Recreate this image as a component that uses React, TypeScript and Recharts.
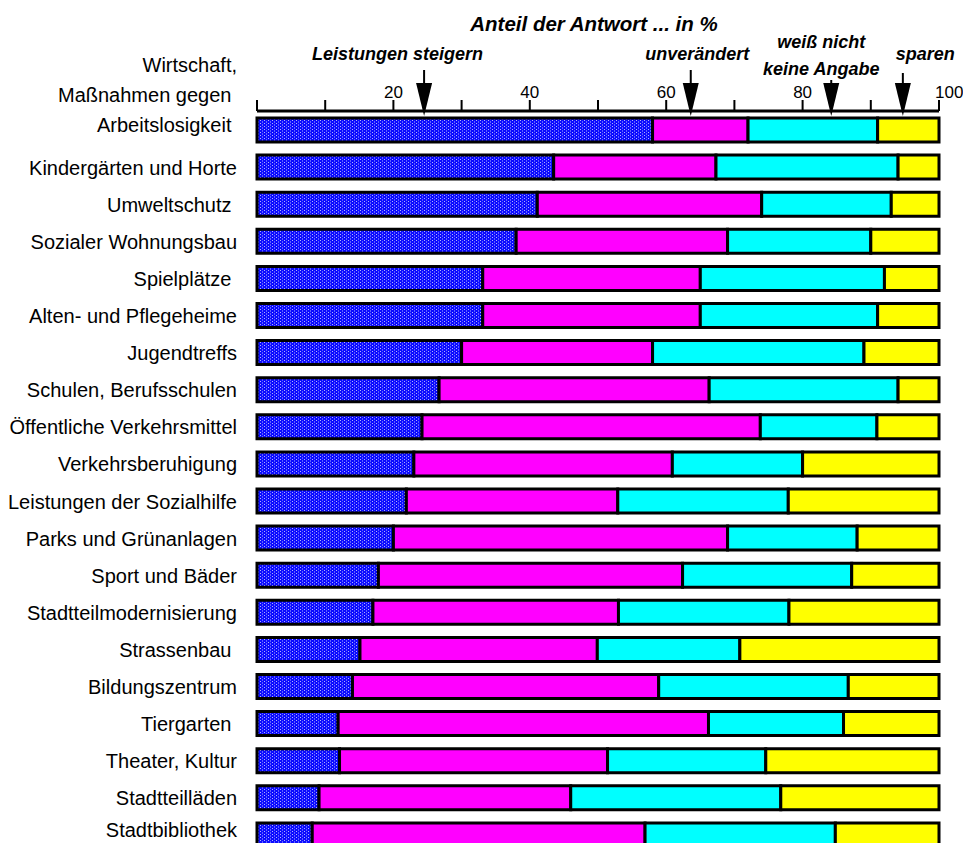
import React from 'react';
import { BarChart, Bar, XAxis, YAxis, ReferenceLine } from 'recharts';

// ---- data ----
const categories = [
  'Wirtschaft,\nMaßnahmen gegen \nArbeitslosigkeit ',
  'Kindergärten und Horte',
  'Umweltschutz ',
  'Sozialer Wohnungsbau',
  'Spielplätze ',
  'Alten- und Pflegeheime',
  'Jugendtreffs',
  'Schulen, Berufsschulen',
  'Öffentliche Verkehrsmittel',
  'Verkehrsberuhigung',
  'Leistungen der Sozialhilfe',
  'Parks und Grünanlagen',
  'Sport und Bäder',
  'Stadtteilmodernisierung',
  'Strassenbau ',
  'Bildungszentrum',
  'Tiergarten ',
  'Theater, Kultur',
  'Stadtteilläden',
  'Stadtbibliothek',
];
const steigern = [58, 43.5, 41.1, 38, 33.1, 33.1, 30, 26.7, 24.2, 23, 21.9, 20, 17.8, 17, 15.1, 14, 11.9, 12.1, 9.1, 8.1];
const unveraendert = [14, 23.8, 32.9, 31, 31.9, 31.9, 28, 39.6, 49.6, 37.9, 31, 49, 44.6, 36, 34.8, 44.9, 54.3, 39.3, 36.9, 48.8];
const weissNicht = [19, 26.7, 19, 21, 27, 26, 31, 27.7, 17.1, 19.1, 25, 19, 24.8, 25, 20.9, 27.8, 19.8, 23.2, 30.8, 27.9];
const sparen = [9, 6, 7, 10, 8, 9, 11, 6, 9.1, 20, 22.1, 12, 12.8, 22, 29.2, 13.3, 14, 25.4, 23.2, 15.2];

const xTicks = [0, 10, 20, 30, 40, 50, 60, 70, 80, 90, 100];
const title = 'Anteil der Antwort ... in %';

// arrow annotations: position on the % axis and their labels
const arrowValues = [24.5, 63.6, 84.2, 94.7];
const arrowLabels = [['Leistungen steigern'], ['unverändert'], ['weiß nicht', 'keine Angabe'], ['sparen']];

// ---- layout / style ----
const FONT = '"Liberation Sans", Arial, Helvetica, sans-serif';
const arrowLayout = [
  { dx: -26.5, baselines: [-51], lineTop: -41 },
  { dx: 6.5, baselines: [-51], lineTop: -41 },
  { dx: -10, baselines: [-63, -36], lineTop: -31 },
  { dx: 22.5, baselines: [-51], lineTop: -38 },
];

const data = categories.map((name, i) => ({
  name,
  steigern: steigern[i],
  unveraendert: unveraendert[i],
  weissNicht: weissNicht[i],
  sparen: sparen[i],
}));

const XTick = (props: any) => {
  const { x, y, payload } = props;
  const v = payload.value;
  if (v === 0 || v % 20 !== 0) return <g />;
  const isLast = v === 100;
  return (
    <text
      x={isLast ? x - 4 : x}
      y={y}
      textAnchor={isLast ? 'start' : 'middle'}
      fontSize={17}
      fontFamily={FONT}
      fill="#000"
    >
      {v}
    </text>
  );
};

const YTick = (props: any) => {
  const { x, y, payload } = props;
  const lines = String(payload.value).split('\n');
  const last = lines.length - 1;
  const baseY = lines.length > 1 ? y + 2 : Math.min(y + 8, 837);
  return (
    <g>
      {lines.map((l, i) => (
        <text
          key={i}
          x={x}
          y={baseY - (last - i) * 30}
          textAnchor="end"
          xmlSpace="preserve"
          style={{ whiteSpace: 'pre' }}
          fontSize={20}
          fontFamily={FONT}
          fill="#000"
        >
          {l}
        </text>
      ))}
    </g>
  );
};

const makeArrow = (idx: number) => (props: any) => {
  const x = props.x1;
  const top = Math.min(props.y1, props.y2);
  const lay = arrowLayout[idx];
  const headTop = top - 28;
  const tip = top + 5;
  return (
    <g>
      <line x1={x} y1={top + lay.lineTop} x2={x} y2={headTop + 1} stroke="#000" strokeWidth={2} />
      <polygon points={`${x - 8},${headTop} ${x + 8},${headTop} ${x},${tip}`} fill="#000" />
      {arrowLabels[idx].map((t, j) => (
        <text
          key={j}
          x={x + lay.dx}
          y={top + lay.baselines[j]}
          textAnchor="middle"
          fontSize={18}
          fontWeight="bold"
          fontStyle="italic"
          fontFamily={FONT}
          fill="#000"
        >
          {t}
        </text>
      ))}
    </g>
  );
};

export default function App() {
  return (
    <div
      style={{
        position: 'fixed',
        left: 0,
        top: 0,
        width: 963,
        height: 843,
        overflow: 'hidden',
        background: '#fff',
      }}
    >
      <svg width={0} height={0} style={{ position: 'absolute' }}>
        <defs>
          <pattern id="dots" patternUnits="userSpaceOnUse" width={4} height={3}>
            <rect x={0} y={0} width={4} height={3} fill="#0c0cff" />
            <rect x={0} y={0} width={1} height={1} fill="#b0b0ff" />
            <rect x={2} y={1.5} width={1} height={1} fill="#b0b0ff" />
          </pattern>
        </defs>
      </svg>
      <BarChart
        width={963}
        height={880}
        data={data}
        layout="vertical"
        margin={{ top: 81, right: 24, bottom: 27, left: 0 }}
        barSize={24}
      >
        <XAxis
          type="number"
          orientation="top"
          domain={[0, 100]}
          ticks={xTicks}
          interval={0}
          height={30}
          tickSize={11}
          tickMargin={2}
          axisLine={{ stroke: '#000', strokeWidth: 3 }}
          tickLine={{ stroke: '#000', strokeWidth: 2 }}
          tick={<XTick />}
        />
        <YAxis
          type="category"
          dataKey="name"
          width={257}
          axisLine={false}
          tickLine={false}
          tickSize={0}
          tickMargin={20}
          interval={0}
          tick={<YTick />}
        />
        <Bar dataKey="steigern" stackId="a" fill="url(#dots)" stroke="#000" strokeWidth={3} isAnimationActive={false} />
        <Bar dataKey="unveraendert" stackId="a" fill="#ff00ff" stroke="#000" strokeWidth={3} isAnimationActive={false} />
        <Bar dataKey="weissNicht" stackId="a" fill="#00ffff" stroke="#000" strokeWidth={3} isAnimationActive={false} />
        <Bar dataKey="sparen" stackId="a" fill="#ffff00" stroke="#000" strokeWidth={3} isAnimationActive={false} />
        {arrowValues.map((v, i) => (
          <ReferenceLine key={i} x={v} ifOverflow="visible" shape={makeArrow(i)} />
        ))}
      </BarChart>
      <svg
        width={963}
        height={843}
        style={{ position: 'absolute', left: 0, top: 0, pointerEvents: 'none' }}
      >
        <text
          x={594}
          y={31}
          textAnchor="middle"
          fontSize={20.5}
          fontWeight="bold"
          fontStyle="italic"
          fontFamily={FONT}
          fill="#000"
        >
          {title}
        </text>
      </svg>
    </div>
  );
}
